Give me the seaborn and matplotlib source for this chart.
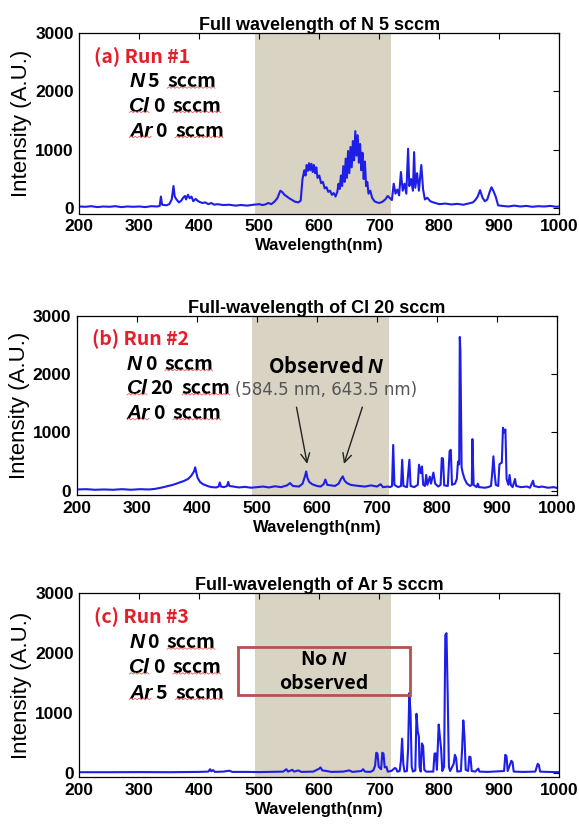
"""
Optical emission spectra of three plasma runs (N / Cl / Ar), stacked panels.
"""

import matplotlib

matplotlib.use("Agg")

import matplotlib.pyplot as plt
import numpy as np
import seaborn as sns
from matplotlib.lines import Line2D
from matplotlib.patches import Rectangle

# ---- data -------------------------------------------------------------------
run1_wl = [200, 210, 220, 230, 240, 250, 260, 270, 280, 290, 300, 310, 320, 330, 334, 336, 338,
           345, 350, 354, 357, 359, 362, 366, 370, 373, 376, 378, 381, 384, 387, 390, 394, 397,
           400, 405, 410, 415, 420, 425, 430, 440, 450, 460, 470, 480, 490, 500, 505, 510, 515,
           520, 525, 530, 535, 538, 542, 546, 550, 555, 560, 565, 569, 572, 575, 577, 579, 581,
           583, 585, 587, 589, 591, 593, 595, 597, 600, 603, 606, 609, 612, 615, 618, 621, 624,
           627, 630, 632, 634, 636, 638, 640, 642, 644, 646, 648, 650, 652, 654, 656, 658, 660,
           662, 664, 666, 668, 670, 672, 674, 676, 678, 680, 682, 685, 688, 692, 696, 700, 705,
           710, 714, 718, 721, 724, 727, 730, 733, 736, 739, 742, 745, 748, 750, 753, 756, 758,
           760, 763, 766, 770, 773, 776, 780, 785, 790, 800, 810, 820, 830, 840, 850, 856, 860,
           864, 868, 872, 876, 880, 884, 887, 890, 894, 898, 905, 915, 925, 935, 945, 955, 965,
           975, 985, 995, 1000]
run1_int = [30, 25, 35, 20, 30, 25, 35, 20, 30, 25, 30, 20, 35, 30, 40, 200, 60,
            50, 70, 150, 380, 200, 150, 100, 130, 180, 210, 150, 230, 170, 200, 120, 160, 130,
            110, 90, 100, 70, 90, 60, 70, 55, 60, 45, 55, 45, 60, 70, 55, 65, 90,
            70, 110, 170, 300, 280, 230, 200, 170, 140, 110, 100, 130, 500, 650, 560, 740, 640,
            770, 650, 760, 620, 740, 600, 700, 520, 560, 430, 450, 340, 360, 280, 300, 230, 260,
            200, 280, 420, 330, 560, 380, 720, 450, 850, 520, 980, 600, 1050, 700, 1150, 820, 1320,
            900, 1250, 780, 1100, 650, 950, 500, 800, 380, 450, 250, 300, 180, 120, 100, 90, 110,
            150, 210, 170, 140, 420, 250, 320, 220, 620, 300, 420, 250, 1020, 380, 500, 300, 960,
            350, 600, 300, 740, 320, 150, 180, 120, 100, 70, 80, 65, 75, 60, 85, 100, 140,
            200, 310, 180, 120, 150, 280, 360, 300, 200, 50, 40, 30, 45, 30, 40, 25, 35,
            30, 40, 25, 30]

run2_wl = [200, 215, 230, 245, 260, 275, 290, 305, 320, 330, 340, 350, 360, 370, 378, 385, 390,
           393, 395, 397, 399, 401, 405, 410, 415, 420, 425, 432, 436, 438, 440, 445, 450, 452,
           454, 460, 470, 480, 490, 500, 510, 520, 530, 540, 550, 555, 560, 570, 576, 580, 582,
           584, 587, 592, 600, 606, 611, 614, 617, 624, 630, 636, 640, 643, 646, 650, 656, 662,
           670, 680, 690, 700, 706, 710, 718, 722, 725, 727, 729, 735, 740, 742, 744, 750, 754,
           756, 762, 768, 770, 773, 775, 777, 780, 782, 784, 788, 790, 794, 797, 802, 806, 808,
           810, 812, 818, 821, 823, 825, 830, 833, 835, 837, 838, 839, 841, 843, 846, 850, 855,
           858, 859, 861, 866, 868, 870, 880, 885, 890, 892, 894, 896, 898, 902, 904, 906, 908,
           910, 912, 914, 916, 919, 921, 923, 926, 930, 932, 940, 950, 955, 960, 962, 970, 975,
           985, 995, 1000]
run2_int = [20, 25, 15, 20, 15, 25, 15, 25, 20, 30, 50, 75, 100, 135, 165, 200, 250,
            300, 330, 400, 300, 220, 150, 110, 90, 70, 60, 55, 70, 140, 70, 60, 80, 150,
            80, 70, 55, 65, 50, 60, 70, 55, 75, 60, 90, 130, 80, 70, 120, 250, 330,
            220, 150, 110, 80, 70, 110, 190, 100, 90, 80, 120, 200, 245, 170, 130, 100, 90,
            80, 70, 90, 70, 110, 60, 70, 60, 80, 785, 100, 60, 80, 530, 80, 60, 530,
            80, 60, 100, 445, 300, 415, 100, 80, 270, 100, 240, 120, 310, 120, 70, 100, 560,
            550, 90, 80, 680, 700, 100, 120, 200, 500, 450, 2640, 2400, 400, 300, 200, 120, 80,
            100, 885, 100, 60, 120, 60, 50, 60, 80, 300, 590, 300, 100, 80, 450, 470, 480,
            1080, 1000, 1050, 200, 100, 270, 100, 60, 200, 80, 60, 70, 50, 170, 80, 60, 70,
            50, 60, 45]

run3_wl = [200, 250, 300, 350, 400, 415, 418, 420, 423, 426, 440, 450, 455, 480, 500, 540, 545,
           548, 555, 558, 565, 570, 590, 600, 602, 605, 612, 620, 640, 650, 655, 670, 673, 676,
           685, 690, 693, 695, 697, 699, 703, 705, 707, 709, 712, 714, 720, 726, 728, 730, 734,
           736, 738, 740, 742, 746, 748, 750, 752, 754, 756, 760, 762, 764, 766, 767, 769, 771,
           773, 775, 778, 790, 792, 794, 796, 799, 801, 803, 805, 808, 810, 812, 814, 816, 818,
           824, 826, 828, 830, 836, 838, 840, 842, 844, 848, 850, 852, 854, 860, 865, 867, 880,
           890, 908, 910, 912, 914, 920, 922, 924, 940, 960, 964, 966, 968, 980, 1000]
run3_int = [10, 10, 12, 10, 15, 20, 60, 25, 45, 15, 20, 35, 15, 15, 12, 20, 60,
            20, 50, 20, 40, 15, 20, 70, 90, 40, 30, 15, 20, 40, 15, 30, 60, 20,
            15, 40, 120, 335, 320, 100, 60, 335, 320, 90, 100, 20, 30, 80, 70, 20, 30,
            200, 570, 150, 20, 30, 400, 1330, 1000, 100, 20, 40, 985, 700, 600, 100, 20, 490,
            450, 50, 20, 20, 320, 325, 50, 805, 600, 400, 30, 100, 2300, 2330, 1285, 100, 30,
            150, 300, 250, 20, 30, 400, 875, 600, 50, 30, 270, 260, 30, 20, 70, 20, 15,
            20, 30, 300, 280, 30, 200, 180, 20, 15, 20, 150, 130, 20, 15, 10]

titles = ["Full wavelength of N 5 sccm",
          "Full-wavelength of Cl 20 sccm",
          "Full-wavelength of Ar 5 sccm"]
run_labels = ["(a) Run #1", "(b) Run #2", "(c) Run #3"]
gas_names = ["N", "Cl", "Ar"]
gas_flows = [["5", "0", "0"], ["0", "20", "0"], ["0", "0", "5"]]
x_ticks = [200, 300, 400, 500, 600, 700, 800, 900, 1000]
y_ticks = [0, 1000, 2000, 3000]
window = (492, 720)
n_lines = [584.5, 643.5]

# ---- style ------------------------------------------------------------------
sns.set_theme(style="white")
plt.rcParams["font.family"] = ["Liberation Sans", "DejaVu Sans"]
plt.rcParams["text.color"] = "black"
plt.rcParams["axes.labelcolor"] = "black"
plt.rcParams["mathtext.fontset"] = "custom"
plt.rcParams["mathtext.it"] = "Liberation Sans:italic:bold"
plt.rcParams["mathtext.rm"] = "Liberation Sans:bold"
ANNOT_FONT = ["Noto Sans CJK KR", "DejaVu Sans"]
ITALIC_FONT = ["Liberation Sans", "DejaVu Sans"]
BLUE = "#1e1ee6"
SHADE = "#d8d3c3"
RED = "#e3202a"

fig = plt.figure(figsize=(5.79, 8.26), dpi=100)
W, H = 579, 826
boxes = [(79.3, 33, 213.5), (77, 316, 495), (79.3, 593, 777)]
y_bottoms = [-90, -75, -70]
spectra = [(run1_wl, run1_int), (run2_wl, run2_int), (run3_wl, run3_int)]

axes = []
squiggle_targets = []
for i, ((left, top, bottom), (wl, inten)) in enumerate(zip(boxes, spectra)):
    ax = fig.add_axes([left / W, 1 - bottom / H, 480 / W, (bottom - top) / H])
    axes.append(ax)
    ax.axvspan(*window, color=SHADE, lw=0, zorder=0)
    sns.lineplot(x=wl, y=inten, ax=ax, color=BLUE, lw=1.5, estimator=None, sort=False, zorder=2)

    ax.set_xlim(200, 1000)
    ax.set_ylim(y_bottoms[i], 3000)
    ax.set_xticks(x_ticks)
    ax.set_yticks(y_ticks)
    ax.tick_params(direction="in", top=True, right=True, length=4, width=0.8,
                   labelsize=12.5, pad=4, colors="black")
    plt.setp(ax.get_xticklabels() + ax.get_yticklabels(), fontweight="bold")
    for spine in ax.spines.values():
        spine.set_color("black")
        spine.set_linewidth(0.9)

    ax.set_title(titles[i], fontsize=13, fontweight="bold", pad=2, color="black")
    ax.set_xlabel("Wavelength(nm)", fontsize=12, fontweight="bold", labelpad=3)
    ax.set_ylabel("Intensity (A.U.)", fontsize=16, labelpad=2)

    # run label and gas flows
    ax.text(0.031, 0.835, run_labels[i], transform=ax.transAxes, color=RED, fontsize=14,
            fontweight="bold", family=ANNOT_FONT, va="baseline")
    for j, (gas, flow) in enumerate(zip(gas_names, gas_flows[i])):
        y = [0.699, 0.564, 0.425][j]
        t_gas = ax.text(0.104, y, gas, transform=ax.transAxes, fontsize=15, fontweight="bold",
                        fontstyle="italic", family=ITALIC_FONT, va="baseline")
        t_flow = ax.annotate(flow, xy=(1, 0), xycoords=t_gas, xytext=(2, 0),
                             textcoords="offset points", fontsize=14, fontweight="bold",
                             family=ANNOT_FONT, va="bottom")
        t_unit = ax.annotate("sccm", xy=(1, 0), xycoords=t_flow, xytext=(6, 0),
                             textcoords="offset points", fontsize=14, fontweight="bold",
                             family=ANNOT_FONT, va="bottom")
        if gas != "N":
            squiggle_targets.append(t_gas)
        squiggle_targets.append(t_unit)

# panel (b): observed N lines
ax = axes[1]
ax.text(0.52, 0.683, "Observed $\\mathit{N}$", transform=ax.transAxes, ha="center",
        va="baseline", fontsize=14.5, fontweight="bold", family=ANNOT_FONT)
ax.text(0.518, 0.559, "(584.5 nm, 643.5 nm)", transform=ax.transAxes, ha="center",
        va="baseline", fontsize=12, color="#555555", family=["DejaVu Sans"])
for tail_x, head_x in zip([565, 677], n_lines):
    ax.annotate("", xy=(head_x, 414), xytext=(tail_x, 1480),
                arrowprops=dict(arrowstyle="->", lw=1.0, color="#222222", mutation_scale=16))

# panel (c): no N observed
ax = axes[2]
ax.add_patch(Rectangle((0.331, 0.446), 0.359, 0.262, transform=ax.transAxes, fill=False,
                       edgecolor="#b5524f", lw=2.0, zorder=5))
ax.text(0.51, 0.609, "No $\\mathit{N}$", transform=ax.transAxes, ha="center", va="baseline",
        fontsize=14, fontweight="bold", family=ANNOT_FONT)
ax.text(0.51, 0.477, "observed", transform=ax.transAxes, ha="center", va="baseline",
        fontsize=14, fontweight="bold", family=ANNOT_FONT)

# spell-check style red squiggles under the gas names / units
fig.canvas.draw()
for t in squiggle_targets:
    bb = t.get_window_extent()
    xs = np.arange(bb.x0, bb.x1, 2.0)
    ys = bb.y0 + 3.0 + 1.6 * (np.arange(len(xs)) % 2)
    fig.add_artist(Line2D(xs / fig.bbox.width, ys / fig.bbox.height, transform=fig.transFigure,
                          color="#e86060", lw=0.6))

fig.savefig("out.png", dpi=100)
plt.close(fig)
